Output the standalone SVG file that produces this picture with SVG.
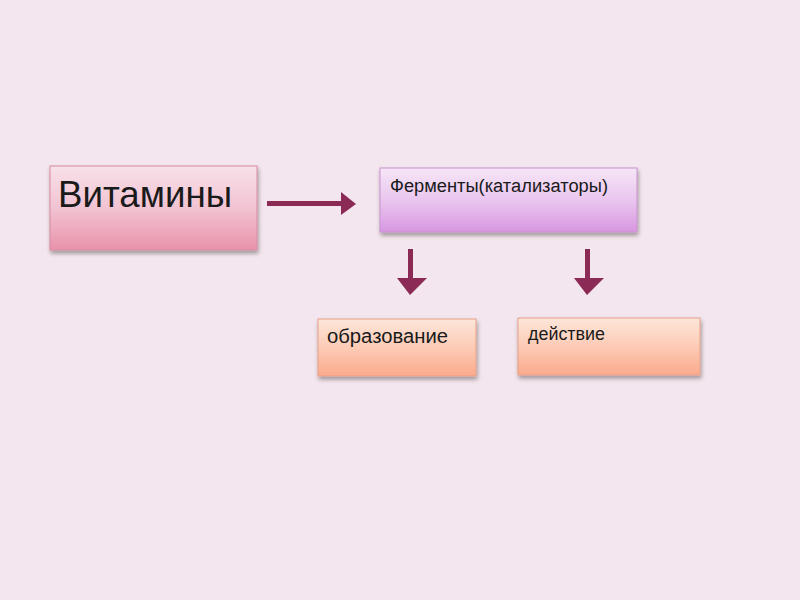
<svg xmlns="http://www.w3.org/2000/svg" width="800" height="600" viewBox="0 0 800 600">
<defs>
<linearGradient id="gPink" x1="0" y1="0" x2="0" y2="1"><stop offset="0" stop-color="#f7e1ea"/><stop offset="0.5" stop-color="#f2c3d2"/><stop offset="1" stop-color="#e892aa"/></linearGradient>
<linearGradient id="gViolet" x1="0" y1="0" x2="0" y2="1"><stop offset="0" stop-color="#f6e6f6"/><stop offset="0.5" stop-color="#eac6ef"/><stop offset="1" stop-color="#d897e0"/></linearGradient>
<linearGradient id="gOrange" x1="0" y1="0" x2="0" y2="1"><stop offset="0" stop-color="#fde6da"/><stop offset="0.5" stop-color="#fdcbb6"/><stop offset="1" stop-color="#fbaa8d"/></linearGradient>
<filter id="sh" x="-10%" y="-10%" width="130%" height="140%"><feDropShadow dx="1" dy="3" stdDeviation="2" flood-color="#000" flood-opacity="0.35"/></filter>
</defs>
<style>
.box{filter:url(#sh);stroke-width:1}
.t{font-family:"Liberation Sans","Open Sans",sans-serif;fill:#1a1a1a}
.arr{fill:#8a2a55}
</style>
<rect width="800" height="600" fill="#f4e6ee"/>
<g id="vitaminy">
<rect class="box" x="50" y="166" width="207" height="84" fill="url(#gPink)" stroke="#d88aa0"/>
<text class="t" x="58" y="207" font-size="36" textLength="174" lengthAdjust="spacingAndGlyphs">Витамины</text>
</g>
<g id="fermenty">
<rect class="box" x="380" y="168" width="257" height="64" fill="url(#gViolet)" stroke="#c891cf"/>
<text class="t" x="390" y="192" font-size="18" textLength="218" lengthAdjust="spacingAndGlyphs">Ферменты(катализаторы)</text>
</g>
<g id="obrazovanie">
<rect class="box" x="318" y="319" width="158" height="57" fill="url(#gOrange)" stroke="#e3a08a"/>
<text class="t" x="327" y="343" font-size="20" textLength="121" lengthAdjust="spacingAndGlyphs">образование</text>
</g>
<g id="deystvie">
<rect class="box" x="518" y="318" width="182" height="57" fill="url(#gOrange)" stroke="#e3a08a"/>
<text class="t" x="528" y="340" font-size="18" textLength="77" lengthAdjust="spacingAndGlyphs">действие</text>
</g>
<g id="connectors">
<polygon class="arr" points="267,201 341,201 341,192 356,204 341,215 341,206 267,206"/>
<polygon class="arr" points="408,249 413,249 413,278 427,278 410,295 397,278 408,278"/>
<polygon class="arr" points="585,249 590,249 590,278 604,278 587,295 574,278 585,278"/>
</g>
</svg>
